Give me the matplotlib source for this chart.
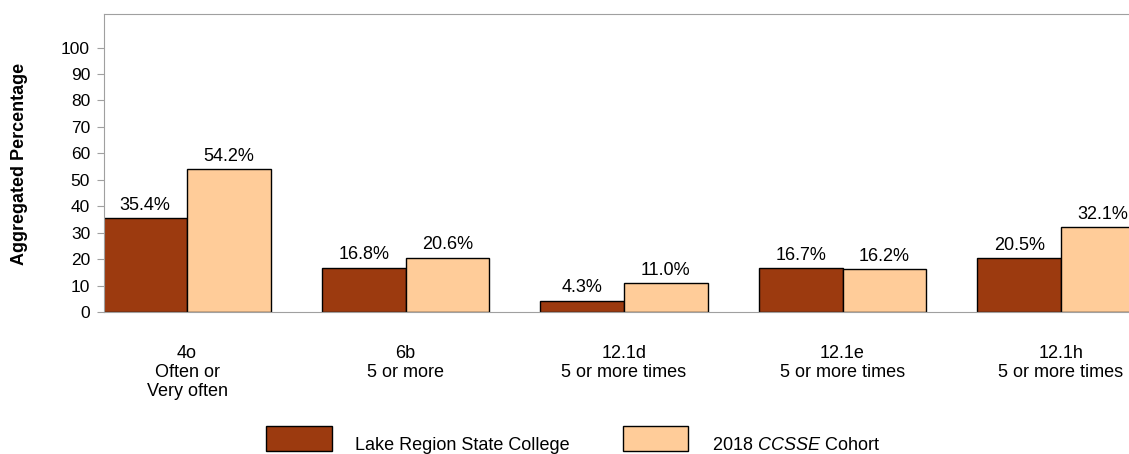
import matplotlib.pyplot as plt
from matplotlib.patches import Rectangle

plt.rcParams['font.family'] = ['Liberation Sans', 'DejaVu Sans']
plt.rcParams['mathtext.fontset'] = 'custom'
plt.rcParams['mathtext.rm'] = 'Liberation Sans'
plt.rcParams['mathtext.it'] = 'Liberation Sans:italic'

categories = ['4o\nOften or\nVery often', '6b\n5 or more', '12.1d\n5 or more times',
              '12.1e\n5 or more times', '12.1h\n5 or more times']
college = [35.4, 16.8, 4.3, 16.7, 20.5]
cohort = [54.2, 20.6, 11.0, 16.2, 32.1]
yticks = [0, 10, 20, 30, 40, 50, 60, 70, 80, 90, 100]

dark = '#9C3A0F'
light = '#FFCC99'
grey = '#A0A0A0'

W, H = 1129, 454
fig = plt.figure(figsize=(W / 100, H / 100), dpi=100)
ax = fig.add_axes([104 / W, 142 / H, 1 - 104 / W, 298 / H])

w = 0.383
x = list(range(len(categories)))
b1 = ax.bar([i - w / 2 for i in x], college, w, color=dark, edgecolor='black', linewidth=1)
b2 = ax.bar([i + w / 2 for i in x], cohort, w, color=light, edgecolor='black', linewidth=1)

for bars, vals in ((b1, college), (b2, cohort)):
    for b, v in zip(bars, vals):
        ax.annotate(f'{v:.1f}%', (b.get_x() + b.get_width() / 2, v), xytext=(0, 3),
                    textcoords='offset points', ha='center', va='bottom', fontsize=13)

ax.set_xlim(-0.38, 4.311)
ax.set_ylim(0, 112.7)
ax.set_yticks(yticks)
ax.set_xticks(x)
ax.set_xticklabels(categories, fontsize=13, linespacing=1.15)
ax.tick_params(axis='x', length=0, pad=24)
ax.tick_params(axis='y', length=5, color=grey, labelsize=12.5, pad=5)
for s in ax.spines.values():
    s.set_color(grey)
ax.spines['right'].set_visible(False)
fig.text(20 / W, (H - 164) / H, 'Aggregated Percentage', fontsize=13, fontweight='bold',
         rotation=90, ha='center', va='center')

# legend drawn at the bottom of the figure
fig.add_artist(Rectangle((266 / W, 3 / H), 66 / W, 25 / H, transform=fig.transFigure,
                         facecolor=dark, edgecolor='black', linewidth=1))
fig.text(355 / W, 4 / H, 'Lake Region State College', fontsize=13, va='baseline')
fig.add_artist(Rectangle((623 / W, 3 / H), 65 / W, 25 / H, transform=fig.transFigure,
                         facecolor=light, edgecolor='black', linewidth=1))
fig.text(712 / W, 4 / H, '2018 $\\it{CCSSE}$ Cohort', fontsize=13, va='baseline')

fig.savefig('out.png', dpi=100)
